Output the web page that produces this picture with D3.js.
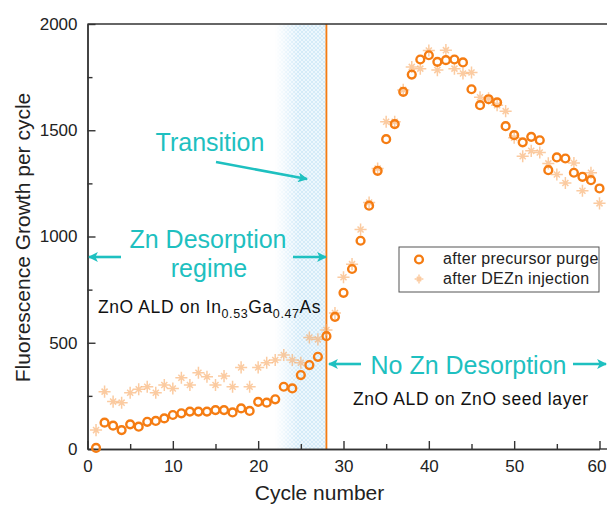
<!DOCTYPE html>
<html lang="en">
<head>
  <meta charset="UTF-8">
  <script src="https://d3js.org/d3.v7.min.js" charset="utf-8"></script>
  <title>Fluorescence growth per cycle</title>
  <style>
    body { margin: 0; background: #fff; }
    text { font-family: "Liberation Sans", Arial, sans-serif; }
  </style>
</head>
<body>
  <script type="text/javascript">

    const w = 607;
    const h = 509;

    // cycle numbers 1..60
    var cycles = [1, 2, 3, 4, 5, 6, 7, 8, 9, 10, 11, 12, 13, 14, 15, 16, 17, 18, 19, 20,
      21, 22, 23, 24, 25, 26, 27, 28, 29, 30, 31, 32, 33, 34, 35, 36, 37, 38, 39, 40,
      41, 42, 43, 44, 45, 46, 47, 48, 49, 50, 51, 52, 53, 54, 55, 56, 57, 58, 59, 60];

    // after precursor purge (circles)
    var purge = [5, 124, 110, 89, 116, 105, 128, 132, 144, 160,
      168, 176, 176, 176, 183, 183, 172, 191, 179, 222,
      218, 234, 293, 285, 348, 395, 434, 531, 622, 735,
      847, 980, 1145, 1309, 1458, 1529, 1681, 1762, 1833, 1853,
      1822, 1830, 1833, 1819, 1693, 1618, 1646, 1631, 1519, 1477,
      1443, 1469, 1453, 1312, 1372, 1367, 1300, 1281, 1265, 1226];

    // after DEZn injection (stars)
    var injection = [89, 270, 223, 218, 265, 281, 293, 265, 301, 285,
      335, 301, 359, 340, 301, 343, 293, 384, 293, 384,
      406, 419, 442, 419, 406, 525, 516, 560, 640, 808,
      870, 1033, 1160, 1320, 1540, 1540, 1690, 1798, 1790, 1875,
      1783, 1877, 1790, 1767, 1772, 1655, 1650, 1618, 1590, 1465,
      1378, 1403, 1395, 1344, 1292, 1252, 1346, 1215, 1300, 1156];

    var xTicks = [0, 10, 20, 30, 40, 50, 60];
    var xMinor = [5, 15, 25, 35, 45, 55];
    var yTicks = [0, 500, 1000, 1500, 2000];
    var yMinor = [250, 750, 1250, 1750];
    var transitionBand = [22, 28];

    var orange = "#f57c12";
    var starColor = "#f8a862";
    var teal = "#1ec0c0";
    var axisColor = "#333";

    var x = d3.scaleLinear().domain([0, 60]).range([87.5, 599.5]);
    var y = d3.scaleLinear().domain([0, 2000]).range([449, 24]);

    var svg = d3.select("body")
      .append("svg")
      .attr("width", w)
      .attr("height", h);

    var defs = svg.append("defs");

    // hatched light blue for the transition band
    var pat = defs.append("pattern")
      .attr("id", "hatch")
      .attr("width", 4)
      .attr("height", 4)
      .attr("patternUnits", "userSpaceOnUse");
    pat.append("rect").attr("width", 4).attr("height", 4).attr("fill", "#d4ebf8");
    pat.append("path").attr("d", "M0,4 L4,0 M0,0 L4,4")
      .attr("stroke", "#f4fafe").attr("stroke-width", 0.8);

    var grad = defs.append("linearGradient")
      .attr("id", "fade")
      .attr("x1", 0).attr("x2", 1).attr("y1", 0).attr("y2", 0);
    grad.append("stop").attr("offset", "0%").attr("stop-color", "#fff").attr("stop-opacity", 0);
    grad.append("stop").attr("offset", "45%").attr("stop-color", "#fff").attr("stop-opacity", 1);
    grad.append("stop").attr("offset", "100%").attr("stop-color", "#fff").attr("stop-opacity", 1);

    var mask = defs.append("mask").attr("id", "fadeMask");
    mask.append("rect")
      .attr("x", x(transitionBand[0]))
      .attr("y", y(2000))
      .attr("width", x(transitionBand[1]) - x(transitionBand[0]))
      .attr("height", y(0) - y(2000))
      .attr("fill", "url(#fade)");

    // arrow heads
    defs.append("marker")
      .attr("id", "head")
      .attr("viewBox", "0 0 10 10")
      .attr("refX", 9)
      .attr("refY", 5)
      .attr("markerWidth", 4.4)
      .attr("markerHeight", 3.8)
      .attr("markerUnits", "strokeWidth")
      .attr("orient", "auto")
      .append("path")
      .attr("d", "M0,0 L10,5 L0,10 L2.5,5 Z")
      .attr("fill", teal);

    svg.append("rect")
      .attr("x", x(transitionBand[0]))
      .attr("y", y(2000))
      .attr("width", x(transitionBand[1]) - x(transitionBand[0]))
      .attr("height", y(0) - y(2000))
      .attr("fill", "url(#hatch)")
      .attr("mask", "url(#fadeMask)");

    // vertical orange line at the boundary
    svg.append("line")
      .attr("x1", x(28)).attr("x2", x(28))
      .attr("y1", y(0)).attr("y2", y(2000))
      .attr("stroke", orange)
      .attr("stroke-width", 1.8);

    // axes
    var xAxis = d3.axisBottom(x).tickValues(xTicks).tickFormat(d3.format("d"))
      .tickSizeInner(-8).tickSizeOuter(0).tickPadding(11);
    var xAxisMinor = d3.axisBottom(x).tickValues(xMinor).tickSizeInner(-5).tickSizeOuter(0).tickFormat("");
    var yAxis = d3.axisLeft(y).tickValues(yTicks).tickFormat(d3.format("d"))
      .tickSizeInner(-8).tickSizeOuter(0).tickPadding(10);
    var yAxisMinor = d3.axisLeft(y).tickValues(yMinor).tickSizeInner(-5).tickSizeOuter(0).tickFormat("");

    function styleAxis(g) {
      g.selectAll("path, line").attr("stroke", axisColor).attr("stroke-width", 1.4);
      g.selectAll("text")
        .attr("fill", "#222")
        .style("font-size", "17px")
        .style("font-family", "'Liberation Sans', Arial, sans-serif");
    }

    var gx = svg.append("g").attr("transform", "translate(0," + y(0) + ")").call(xAxis).call(styleAxis);
    // last label sits at the right edge; pull it in slightly so it stays visible
    gx.selectAll(".tick text").filter(function (d) { return d === 60; }).attr("dx", -3);
    svg.append("g").attr("transform", "translate(0," + y(0) + ")").call(xAxisMinor).call(styleAxis);
    svg.append("g").attr("transform", "translate(" + x(0) + ",0)").call(yAxis).call(styleAxis);
    svg.append("g").attr("transform", "translate(" + x(0) + ",0)").call(yAxisMinor).call(styleAxis);

    // frame top + axis running off the right edge
    svg.append("line")
      .attr("x1", x(0)).attr("x2", w)
      .attr("y1", y(2000)).attr("y2", y(2000))
      .attr("stroke", axisColor).attr("stroke-width", 1.4);
    svg.append("line")
      .attr("x1", x(60)).attr("x2", w)
      .attr("y1", y(0)).attr("y2", y(0))
      .attr("stroke", axisColor).attr("stroke-width", 1.4);

    // axis titles
    svg.append("text")
      .attr("x", x(30) - 24)
      .attr("y", 500)
      .attr("text-anchor", "middle")
      .style("font-size", "21px")
      .attr("fill", "#222")
      .text("Cycle number");

    svg.append("text")
      .attr("transform", "translate(30," + (y(1000) + 1) + ") rotate(-90)")
      .attr("text-anchor", "middle")
      .style("font-size", "21px")
      .attr("fill", "#222")
      .text("Fluorescence Growth per cycle");

    // sparkle-like star symbol
    var sparkle = {
      draw: function (context, size) {
        var r = Math.sqrt(size) * 0.62;
        var s = r * 0.5;
        context.moveTo(0, -r); context.lineTo(0, r);
        context.moveTo(-r, 0); context.lineTo(r, 0);
        context.moveTo(-s, -s); context.lineTo(s, s);
        context.moveTo(-s, s); context.lineTo(s, -s);
      }
    };
    var starPath = d3.symbol().type(sparkle).size(95);

    var starData = cycles.map(function (c, i) { return [c, injection[i]]; });
    var circData = cycles.map(function (c, i) { return [c, purge[i]]; });

    svg.append("g").selectAll("path")
      .data(starData)
      .enter()
      .append("path")
      .attr("d", starPath)
      .attr("transform", function (d) { return "translate(" + x(d[0]) + "," + y(d[1]) + ")"; })
      .attr("fill", "none")
      .attr("stroke", starColor)
      .attr("stroke-width", 1.5)
      .attr("stroke-opacity", 0.6);

    svg.append("g").selectAll("circle")
      .data(circData)
      .enter()
      .append("circle")
      .attr("cx", function (d) { return x(d[0]); })
      .attr("cy", function (d) { return y(d[1]); })
      .attr("r", 3.9)
      .attr("fill", "none")
      .attr("stroke", orange)
      .attr("stroke-width", 2.4);

    // legend
    var lg = svg.append("g").attr("transform", "translate(399,247)");
    lg.append("rect")
      .attr("width", 200).attr("height", 45)
      .attr("fill", "#fff")
      .attr("stroke", "#555").attr("stroke-width", 1);
    lg.append("circle")
      .attr("cx", 20).attr("cy", 12.5).attr("r", 3.9)
      .attr("fill", "none").attr("stroke", orange).attr("stroke-width", 2.4);
    lg.append("path")
      .attr("d", d3.symbol().type(sparkle).size(50))
      .attr("transform", "translate(20,32)")
      .attr("fill", "none")
      .attr("stroke", starColor)
      .attr("stroke-width", 1.5)
      .attr("stroke-opacity", 0.6);
    lg.append("text").attr("x", 44).attr("y", 17).style("font-size", "16px")
      .style("letter-spacing", "0.3px").attr("fill", "#222")
      .text("after precursor purge");
    lg.append("text").attr("x", 44).attr("y", 37).style("font-size", "16px")
      .style("letter-spacing", "0.3px").attr("fill", "#222")
      .text("after DEZn injection");

    // annotations
    function arrow(x1, y1, x2, y2) {
      svg.append("line")
        .attr("x1", x1).attr("y1", y1)
        .attr("x2", x2).attr("y2", y2)
        .attr("stroke", teal)
        .attr("stroke-width", 2.6)
        .attr("marker-end", "url(#head)");
    }

    svg.append("text")
      .attr("x", 210).attr("y", 151)
      .attr("text-anchor", "middle")
      .style("font-size", "25px").attr("fill", teal)
      .text("Transition");
    arrow(216, 162, 307, 179);

    svg.append("text")
      .attr("x", 208).attr("y", 248)
      .attr("text-anchor", "middle")
      .style("font-size", "25px").attr("fill", teal)
      .text("Zn Desorption");
    svg.append("text")
      .attr("x", 209).attr("y", 277)
      .attr("text-anchor", "middle")
      .style("font-size", "25px").attr("fill", teal)
      .text("regime");
    arrow(121, 257, 89, 257);
    arrow(293, 257, 326, 257);

    var ingaas = svg.append("text")
      .attr("x", 98).attr("y", 313)
      .style("font-size", "17.5px")
      .style("letter-spacing", "0.6px")
      .attr("fill", "#111");
    ingaas.append("tspan").text("ZnO ALD on In");
    ingaas.append("tspan").attr("dy", 5).style("font-size", "12.5px").text("0.53");
    ingaas.append("tspan").attr("dy", -5).text("Ga");
    ingaas.append("tspan").attr("dy", 5).style("font-size", "12.5px").text("0.47");
    ingaas.append("tspan").attr("dy", -5).text("As");

    svg.append("text")
      .attr("x", 468.5).attr("y", 374)
      .attr("text-anchor", "middle")
      .style("font-size", "25px").attr("fill", teal)
      .text("No Zn Desorption");
    arrow(361, 364, 329, 364);
    arrow(573, 364, 606, 364);

    svg.append("text")
      .attr("x", 353).attr("y", 405)
      .style("font-size", "17.5px")
      .style("letter-spacing", "0.6px")
      .attr("fill", "#111")
      .text("ZnO ALD on ZnO seed layer");

  </script>
</body>
</html>
